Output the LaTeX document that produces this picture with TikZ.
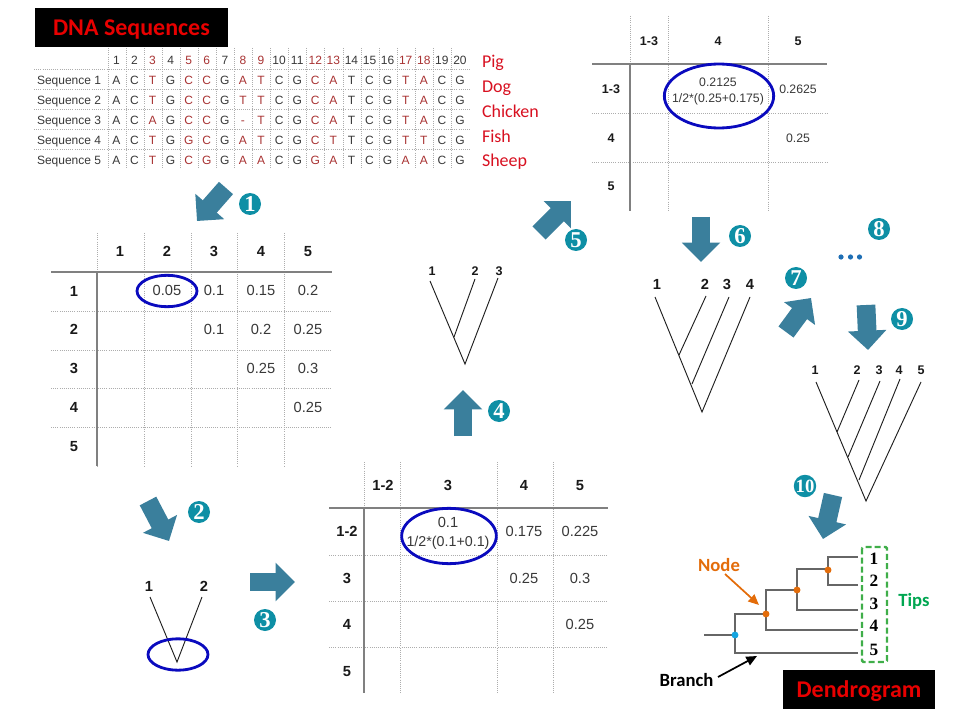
\documentclass[tikz,border=0pt]{standalone}
\usepackage{fontspec}
\setmainfont{Liberation Sans}
\newfontfamily\calfont{Carlito}
\newfontfamily\timesfont{Liberation Serif}
\usetikzlibrary{arrows.meta,shapes.geometric}
\definecolor{arrowteal}{HTML}{3A7F9C}
\definecolor{badgeteal}{HTML}{0E8FA5}
\definecolor{ringblue}{HTML}{0A0ABE}
\definecolor{dotblue}{HTML}{1F6FB5}
\definecolor{seqred}{HTML}{A83232}
\definecolor{labelred}{HTML}{D81020}
\definecolor{titlered}{HTML}{E80000}
\definecolor{nodeorange}{HTML}{E36C0A}
\definecolor{rootblue}{HTML}{14A5E0}
\definecolor{tipgreen}{HTML}{00A651}
\definecolor{boxgreen}{HTML}{3FAE49}
\definecolor{branchgray}{HTML}{666666}
\colorlet{col0}{black!78}
\colorlet{col1}{seqred}
\tikzset{
  txt/.style={inner sep=0pt,outer sep=0pt,text height=.72em,text depth=0pt,font=\fontsize{11}{13}\selectfont,text=black!78},
  smalltxt/.style={txt,font=\fontsize{9.2}{11}\selectfont},
  head/.style={txt,font=\fontsize{11}{13}\selectfont\bfseries,text=black!90},
  smallhead/.style={txt,font=\fontsize{9.4}{11}\selectfont\bfseries,text=black!90},
  seqtxt/.style={txt,font=\fontsize{9}{11}\selectfont},
  animal/.style={txt,anchor=west,yshift=-1.2pt,font=\calfont\fontsize{13.5}{15}\selectfont,text=labelred},
  solidline/.style={draw=black!50,line width=.8pt},
  dotline/.style={draw=black!32,line width=.6pt,densely dotted},
  ring/.style={draw=ringblue,line width=2.1pt,ellipse,inner sep=0pt,fill=none},
  bigarrow/.style={draw=arrowteal,line width=14pt,{-{Triangle[length=14.5pt,width=28pt,fill=arrowteal]}}},
  badge/.style={circle,fill=badgeteal,inner sep=0pt,minimum size=16.5pt,text=white,font=\timesfont\fontsize{17}{17}\selectfont\bfseries},
  treeline/.style={draw=black!88,line width=.7pt},
  branch/.style={draw=branchgray,line width=1.2pt},
  titlebox/.style={fill=black,inner sep=0pt,text=titlered,text height=12.5pt,text depth=0pt,font=\calfont\fontsize{18}{20}\selectfont\bfseries},
  joint/.style={circle,fill=nodeorange,inner sep=0pt,minimum size=5.2pt},
  tipnum/.style={txt,font=\timesfont\fontsize{13}{14}\selectfont\bfseries,text=black},
  callout/.style={txt,yshift=-1.2pt,font=\calfont\fontsize{14}{16}\selectfont\bfseries},
}
\begin{document}
\begin{tikzpicture}[x=0.75pt,y=-0.75pt]
\useasboundingbox (0,0) rectangle (960,720);

% ---- DNA table
\node[titlebox,minimum width=144.75pt,minimum height=29.25pt] (dnatitle) at (131.5,27.5) {DNA Sequences};
\foreach \i in {0,...,19} \draw[dotline] ({108+18.07*\i},48) -- ({108+18.07*\i},168);
\foreach \y in {69,89,109,129,149} \draw[dotline] (34,\y) -- (470,\y);
\foreach \i in {1,...,20} {
  \pgfmathtruncatemacro\f{{0,0,1,0,1,1,0,1,1,0,0,1,1,0,0,0,1,1,0,0}[\i-1]}
  \node[seqtxt,text=col\f] (hd\i) at ({116.4+18.08*(\i-1)},60) {\i};
}
\foreach \r/\y/\row in {
  1/79.5/{A,C,T,G,C,C,G,A,T,C,G,C,A,T,C,G,T,A,C,G},
  2/99.5/{A,C,T,G,C,C,G,T,T,C,G,C,A,T,C,G,T,A,C,G},
  3/119.5/{A,C,A,G,C,C,G,-,T,C,G,C,A,T,C,G,T,A,C,G},
  4/140/{A,C,T,G,G,C,G,A,T,C,G,C,T,T,C,G,T,T,C,G},
  5/160/{A,C,T,G,C,G,G,A,A,C,G,G,A,T,C,G,A,A,C,G}} {
  \node[seqtxt,anchor=west] (seq\r) at (37,\y) {Sequence \r};
  \foreach \c [count=\i] in \row {
    \pgfmathtruncatemacro\f{{0,0,1,0,1,1,0,1,1,0,0,1,1,0,0,0,1,1,0,0}[\i-1]}
    \node[seqtxt,text=col\f] (b\r n\i) at ({116.4+18.08*(\i-1)},\y) {\c};
  }
}
\node[animal] (pig) at (482,61) {Pig};
\node[animal] (dog) at (482,86) {Dog};
\node[animal] (chicken) at (482,111) {Chicken};
\node[animal] (fish) at (482,136) {Fish};
\node[animal] (sheep) at (482,160) {Sheep};

% ---- Matrix 1
\foreach \x in {97,144,191,237,284} \draw[dotline] (\x,233) -- (\x,466);
\foreach \y in {311,350,388,427} \draw[dotline] (51,\y) -- (332,\y);
\draw[solidline] (51,272) -- (332,272);
\draw[solidline] (97,272) -- (97,466);
\foreach \x/\t in {120/1,167/2,214/3,261/4,308/5} \node[head] (ma\t) at (\x,252) {\t};
\foreach \y/\t in {292/1,330/2,369/3,408/4,447/5} \node[head] (mb\t) at (74,\y) {\t};
\node[txt] (m12) at (167,291) {0.05};
\node[txt] (m13) at (214,291) {0.1};
\node[txt] (m14) at (261,291) {0.15};
\node[txt] (m15) at (308,291) {0.2};
\node[txt] (m23) at (214,330) {0.1};
\node[txt] (m24) at (261,330) {0.2};
\node[txt] (m25) at (308,330) {0.25};
\node[txt] (m34) at (261,369) {0.25};
\node[txt] (m35) at (308,369) {0.3};
\node[txt] (m45) at (308,408) {0.25};
\node[ring,minimum width=45pt,minimum height=23.5pt] (ring1) at (167,291) {};

% ---- Matrix 2
\foreach \x in {364,400,497,553} \draw[dotline] (\x,462) -- (\x,693);
\foreach \y in {555,601,647} \draw[dotline] (329,\y) -- (608,\y);
\draw[solidline] (329,508) -- (608,508);
\draw[solidline] (364,508) -- (364,693);
\node[head] (na12) at (383,486) {1-2};
\node[head] (na3) at (448,486) {3};
\node[head] (na4) at (524,486) {4};
\node[head] (na5) at (580,486) {5};
\node[head] (nb12) at (347,532) {1-2};
\node[head] (nb3) at (347,579) {3};
\node[head] (nb4) at (347,625) {4};
\node[head] (nb5) at (347,672) {5};
\node[txt] (n3a) at (448,523) {0.1};
\node[txt,font=\fontsize{10.7}{13}\selectfont] (n3b) at (448,542) {1/2*(0.1+0.1)};
\node[txt] (n4) at (524,532) {0.175};
\node[txt] (n5) at (580,532) {0.225};
\node[txt] (n34) at (524,579) {0.25};
\node[txt] (n35) at (580,579) {0.3};
\node[txt] (n45) at (580,625) {0.25};
\node[ring,minimum width=71pt,minimum height=41.5pt] (ring2) at (449,536) {};

% ---- Matrix 3
\foreach \x in {630,668,768} \draw[dotline] (\x,16) -- (\x,211);
\foreach \y in {113,162} \draw[dotline] (592,\y) -- (827,\y);
\draw[solidline] (592,64) -- (827,64);
\draw[solidline] (630,64) -- (630,211);
\node[smallhead] (pa13) at (649,41) {1-3};
\node[smallhead] (pa4) at (718,41) {4};
\node[smallhead] (pa5) at (798,41) {5};
\node[smallhead] (pb13) at (611,89) {1-3};
\node[smallhead] (pb4) at (611,138) {4};
\node[smallhead] (pb5) at (611,186) {5};
\node[smalltxt] (p4a) at (718,82) {0.2125};
\node[smalltxt] (p4b) at (718,98) {1/2*(0.25+0.175)};
\node[smalltxt] (p5) at (798,89) {0.2625};
\node[smalltxt] (p45) at (798,138) {0.25};
\node[ring,minimum width=82pt,minimum height=48pt] (ring3) at (719,96) {};

% ---- Tree with 2 tips
\node[head] (ta1) at (149,587) {1};
\node[head] (ta2) at (204,587) {2};
\coordinate (ta1t) at (150,597);
\coordinate (ta2t) at (202,597);
\coordinate (taroot) at (177,662);
\draw[treeline] (ta1t) -- (taroot) -- (ta2t);
\node[ring,minimum width=45pt,minimum height=23.5pt] (ring4) at (178,654.5) {};

% ---- Tree with 3 tips
\node[smallhead] (tb1) at (432,271) {1};
\node[smallhead] (tb2) at (475,271) {2};
\node[smallhead] (tb3) at (499,271) {3};
\coordinate (tb1t) at (430,281);
\coordinate (tb2t) at (475,279);
\coordinate (tb3t) at (498,278);
\coordinate (tbroot) at (465,364);
\coordinate (tbj) at (454,337);
\draw[treeline] (tb1t) -- (tbroot) -- (tb3t);
\draw[treeline] (tbj) -- (tb2t);

% ---- Tree with 4 tips
\node[head] (tc1) at (657,285) {1};
\node[head] (tc2) at (705,285) {2};
\node[head] (tc3) at (727,285) {3};
\node[head] (tc4) at (750,285) {4};
\coordinate (tc1t) at (655,297);
\coordinate (tc2t) at (706,296);
\coordinate (tc3t) at (729,297);
\coordinate (tc4t) at (750,297);
\coordinate (tcroot) at (702,412);
\coordinate (tcj1) at (679,355);
\coordinate (tcj2) at (692,384);
\draw[treeline] (tc1t) -- (tcroot) -- (tc4t);
\draw[treeline] (tcj1) -- (tc2t);
\draw[treeline] (tcj2) -- (tc3t);

% ---- Tree with 5 tips
\node[smallhead] (td1) at (815,370) {1};
\node[smallhead] (td2) at (857,370) {2};
\node[smallhead] (td3) at (879,370) {3};
\node[smallhead] (td4) at (899,370) {4};
\node[smallhead] (td5) at (921,370) {5};
\coordinate (td1t) at (816,382);
\coordinate (td2t) at (859,380);
\coordinate (td3t) at (880,381);
\coordinate (td4t) at (900,379);
\coordinate (td5t) at (921,382);
\coordinate (tdroot) at (866,501);
\coordinate (tdj1) at (837,432);
\coordinate (tdj2) at (848,457);
\coordinate (tdj3) at (859,480);
\draw[treeline] (td1t) -- (tdroot) -- (td5t);
\draw[treeline] (tdj1) -- (td2t);
\draw[treeline] (tdj2) -- (td3t);
\draw[treeline] (tdj3) -- (td4t);

% ---- Step arrows
\coordinate (a1s) at (226,188); \coordinate (a1e) at (197,221);
\coordinate (a2s) at (148,501); \coordinate (a2e) at (169,541);
\coordinate (a3s) at (250,582); \coordinate (a3e) at (295,582);
\coordinate (a4s) at (463,436); \coordinate (a4e) at (463,390);
\coordinate (a5s) at (539,233); \coordinate (a5e) at (571,201);
\coordinate (a6s) at (701,217); \coordinate (a6e) at (701,262);
\coordinate (a7s) at (786,332); \coordinate (a7e) at (811,298);
\coordinate (a9s) at (866,305); \coordinate (a9e) at (868,350);
\coordinate (a10s) at (833,495); \coordinate (a10e) at (823,539);
\foreach \n in {1,2,3,4,5,6,7,9,10} \draw[bigarrow] (a\n s) -- (a\n e);

% ---- Step badges
\node[badge] (s1) at (250,204) {1};
\node[badge] (s2) at (199,512) {2};
\node[badge] (s3) at (265,620) {3};
\node[badge] (s4) at (499,411) {4};
\node[badge] (s5) at (576,240) {5};
\node[badge] (s6) at (740,236) {6};
\node[badge] (s7) at (796,278) {7};
\node[badge] (s8) at (879,229) {8};
\node[badge] (s9) at (902,319) {9};
\node[badge,font=\timesfont\fontsize{14}{14}\selectfont\bfseries] (s10) at (805,486) {10};
\foreach \x [count=\i] in {841,850.5,859.5}
  \node[circle,fill=dotblue,inner sep=0pt,minimum size=3.9pt] (dot\i) at (\x,257) {};

% ---- Dendrogram
\coordinate (stub) at (704,635);
\coordinate (v1t) at (735,614); \coordinate (v1b) at (735,653);
\coordinate (v2t) at (766,590); \coordinate (v2b) at (766,630);
\coordinate (v3t) at (797,569); \coordinate (v3b) at (797,610);
\coordinate (v4t) at (828,557); \coordinate (v4b) at (828,585);
\coordinate (e1) at (858,557); \coordinate (e2) at (858,585);
\coordinate (e3) at (858,610); \coordinate (e4) at (858,630);
\coordinate (e5) at (858,653);
\coordinate (h1) at (766,614); \coordinate (h2) at (797,590); \coordinate (h3) at (828,569);
\coordinate (j0c) at (735,635);
\draw[branch] (e5) -- (v1b) -- (v1t) -- (h1);
\draw[branch] (stub) -- (j0c);
\draw[branch] (e4) -- (v2b) -- (v2t) -- (h2);
\draw[branch] (e3) -- (v3b) -- (v3t) -- (h3);
\draw[branch] (e2) -- (v4b) -- (v4t) -- (e1);
\node[joint] (j1) at (h1) {};
\node[joint] (j2) at (h2) {};
\node[joint] (j3) at (828,570) {};
\node[joint,fill=rootblue] (j0) at (j0c) {};
\draw[boxgreen,line width=1.8pt,dash pattern=on 4.5pt off 2.4pt,rounded corners=1pt] (862,547) rectangle (887,662);
\node[tipnum] (tip1) at (874,560) {1};
\node[tipnum] (tip2) at (874,582) {2};
\node[tipnum] (tip3) at (874,605) {3};
\node[tipnum] (tip4) at (874,627) {4};
\node[tipnum] (tip5) at (874,651) {5};
\node[callout,text=tipgreen] (tips) at (914,600) {Tips};
\node[callout,text=nodeorange] (nodelbl) at (719,565) {Node};
\node[callout,text=black] (branchlbl) at (686.5,680) {Branch};
\coordinate (nodefrom) at (725,574);
\coordinate (nodetip) at (759,605);
\coordinate (branchfrom) at (718,677);
\coordinate (branchtip) at (757,656);
\draw[nodeorange,line width=1.3pt,-{Triangle[length=8pt,width=7pt]}] (nodefrom) -- (nodetip);
\draw[black,line width=1.3pt,-{Triangle[length=8pt,width=7pt]}] (branchfrom) -- (branchtip);
\node[titlebox,minimum width=114pt,minimum height=29pt] (dendro) at (859,689.5) {Dendrogram};
\end{tikzpicture}
\end{document}
